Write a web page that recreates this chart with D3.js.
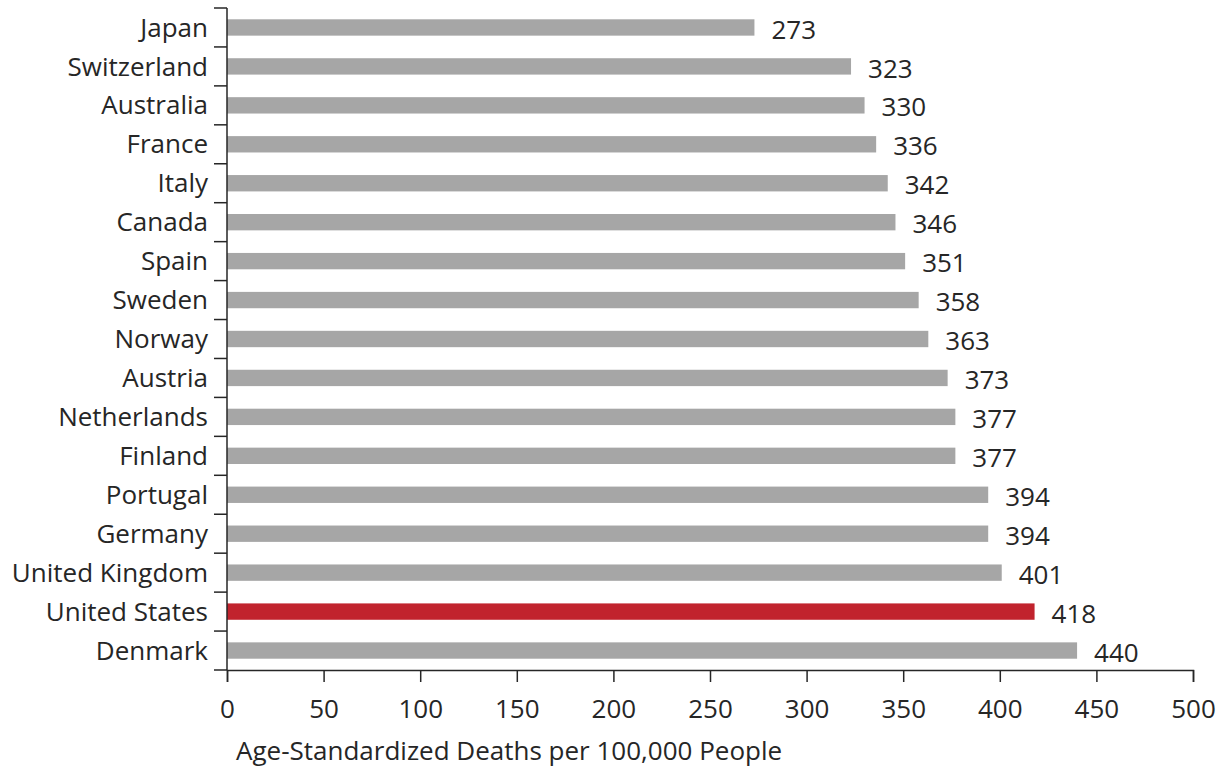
<!DOCTYPE html>
<html>
<head>
<meta charset="utf-8">
<script src="https://cdn.jsdelivr.net/npm/d3@7"></script>
<style>
  body { margin: 0; background: #fff; }
  svg text { font-family: "Open Sans", sans-serif; fill: #262626; }
</style>
</head>
<body>
<div id="container"></div>
<script>
/* DATA */
const countries = ["Japan", "Switzerland", "Australia", "France", "Italy", "Canada", "Spain",
  "Sweden", "Norway", "Austria", "Netherlands", "Finland", "Portugal", "Germany",
  "United Kingdom", "United States", "Denmark"];
const deaths = [273, 323, 330, 336, 342, 346, 351, 358, 363, 373, 377, 377, 394, 394, 401, 418, 440];
const xTicks = [0, 50, 100, 150, 200, 250, 300, 350, 400, 450, 500];
const highlight = "United States";

/* CONSTANTS */
const width = 1221, height = 769,
  margin = { top: 8, bottom: 99, left: 227, right: 28 },
  fontSize = "26px";

const svg = d3.select("#container")
  .append("svg")
  .attr("width", width)
  .attr("height", height);

// SCALES
const x = d3.scaleLinear()
  .domain([0, 500])
  .range([margin.left, width - margin.right]);

const y = d3.scaleBand()
  .domain(countries)
  .range([margin.top, height - margin.bottom])
  .paddingInner(0.58)
  .paddingOuter(0.29);

const rows = countries.map((c, i) => ({ country: c, value: deaths[i] }));

// BARS
svg.selectAll("rect.bar")
  .data(rows)
  .join("rect")
  .attr("class", "bar")
  .attr("x", x(0))
  .attr("y", d => y(d.country))
  .attr("width", d => x(d.value) - x(0))
  .attr("height", y.bandwidth())
  .attr("fill", d => d.country === highlight ? "#c1232d" : "#a6a6a6");

// VALUE LABELS
svg.selectAll("text.value")
  .data(rows)
  .join("text")
  .attr("class", "value")
  .attr("x", d => x(d.value) + 17)
  .attr("y", d => y(d.country) + y.bandwidth() / 2 + 2)
  .attr("dy", "0.35em")
  .style("font-size", fontSize)
  .text(d => d.value);

// Y AXIS (ticks between categories)
const yAxisG = svg.append("g")
  .attr("stroke", "#262626")
  .attr("stroke-width", 1.5);
yAxisG.append("line")
  .attr("x1", x(0)).attr("x2", x(0))
  .attr("y1", margin.top).attr("y2", height - margin.bottom);
const step = y.step();
const bounds = d3.range(countries.length + 1).map(i => margin.top + i * step);
yAxisG.selectAll("line.ytick")
  .data(bounds)
  .join("line")
  .attr("class", "ytick")
  .attr("x1", x(0) - 13).attr("x2", x(0))
  .attr("y1", d => d).attr("y2", d => d);

svg.selectAll("text.ylabel")
  .data(countries)
  .join("text")
  .attr("class", "ylabel")
  .attr("x", x(0) - 19)
  .attr("y", d => y(d) + y.bandwidth() / 2)
  .attr("dy", "0.35em")
  .attr("text-anchor", "end")
  .style("font-size", fontSize)
  .text(d => d);

// X AXIS
const xAxis = d3.axisBottom(x)
  .tickValues(xTicks)
  .tickSize(12)
  .tickPadding(18)
  .tickFormat(d3.format("d"));
const xg = svg.append("g")
  .attr("transform", `translate(0, ${height - margin.bottom})`)
  .call(xAxis);
xg.select(".domain").attr("stroke", "#262626").attr("stroke-width", 1.5);
xg.selectAll(".tick line").attr("stroke", "#262626").attr("stroke-width", 1.5);
xg.selectAll(".tick text")
  .style("font-family", "Open Sans, sans-serif")
  .style("font-size", fontSize)
  .attr("fill", "#262626");

// AXIS TITLE
svg.append("text")
  .attr("x", 236)
  .attr("y", 751)
  .attr("dy", "0.35em")
  .style("font-size", fontSize)
  .text("Age-Standardized Deaths per 100,000 People");
</script>
</body>
</html>
